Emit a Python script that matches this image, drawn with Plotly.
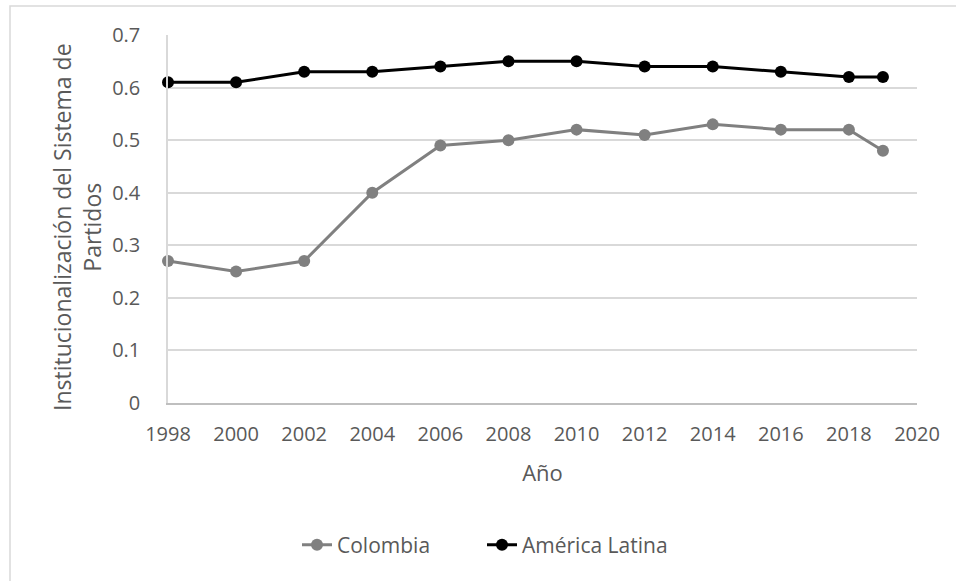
import plotly.graph_objects as go

# Party-system institutionalization index by year
years_colombia = [1998, 2000, 2002, 2004, 2006, 2008, 2010, 2012, 2014, 2016, 2018, 2019]
colombia = [0.27, 0.25, 0.27, 0.40, 0.49, 0.50, 0.52, 0.51, 0.53, 0.52, 0.52, 0.48]

years_latam = [1998, 2000, 2002, 2004, 2006, 2008, 2010, 2012, 2014, 2016, 2018, 2019]
america_latina = [0.61, 0.61, 0.63, 0.63, 0.64, 0.65, 0.65, 0.64, 0.64, 0.63, 0.62, 0.62]

x_ticks = [1998, 2000, 2002, 2004, 2006, 2008, 2010, 2012, 2014, 2016, 2018, 2020]
y_ticks = [0, 0.1, 0.2, 0.3, 0.4, 0.5, 0.6, 0.7]
y_tick_text = ["0", "0.1", "0.2", "0.3", "0.4", "0.5", "0.6", "0.7"]

W, H = 956, 581
L, R, T, B = 168, 39, 35, 178
TEXT = "#595959"
FONT = "Open Sans"

fig = go.Figure()
fig.add_trace(go.Scatter(
    x=years_colombia, y=colombia, name="Colombia", mode="lines+markers",
    line=dict(color="#808080", width=3),
    marker=dict(color="#808080", size=12),
    cliponaxis=False,
))
fig.add_trace(go.Scatter(
    x=years_latam, y=america_latina, name="América Latina", mode="lines+markers",
    line=dict(color="#000000", width=3),
    marker=dict(color="#000000", size=12),
    cliponaxis=False,
))

pw, ph = W - L - R, H - T - B


def px_x(p):
    return (p - L) / pw


def px_y(p):
    return (H - B - p) / ph


# outer chart frame
fig.add_shape(type="rect", xref="paper", yref="paper",
              x0=px_x(10), x1=px_x(990), y0=px_y(6), y1=px_y(620),
              line=dict(color="#d9d9d9", width=1.5), fillcolor="rgba(0,0,0,0)",
              layer="below")

# y-axis title (two lines)
fig.add_annotation(
    text="Institucionalización del Sistema de<br>Partidos",
    xref="paper", yref="paper", x=px_x(77), y=px_y(227),
    textangle=-90, showarrow=False, xanchor="center", yanchor="middle",
    font=dict(family=FONT, size=23, color=TEXT),
)

fig.update_layout(
    width=W, height=H,
    margin=dict(l=L, r=R, t=T, b=B, pad=0),
    paper_bgcolor="white", plot_bgcolor="white",
    font=dict(family=FONT, size=20, color=TEXT),
    showlegend=True,
    legend=dict(orientation="h", x=px_x(297), y=px_y(545), xanchor="left",
                yanchor="middle", font=dict(family=FONT, size=21, color=TEXT),
                entrywidth=140, entrywidthmode="pixels", traceorder="normal"),
    xaxis=dict(
        range=[1998, 2020], tickmode="array", tickvals=x_ticks,
        showgrid=False, showline=True, linecolor="#bfbfbf", linewidth=1.5,
        ticks="", ticklabelstandoff=12, zeroline=False,
        tickfont=dict(family=FONT, size=20, color=TEXT),
        title=dict(text="Año", standoff=20, font=dict(family=FONT, size=22, color=TEXT)),
    ),
    yaxis=dict(
        range=[0, 0.7], tickmode="array", tickvals=y_ticks, ticktext=y_tick_text,
        showgrid=True, gridcolor="#d9d9d9", gridwidth=1.5,
        showline=True, linecolor="#d9d9d9", linewidth=1.5,
        ticks="", ticklabelstandoff=22, zeroline=False,
        tickfont=dict(family=FONT, size=20, color=TEXT),
    ),
)

fig.write_html("out.html")
